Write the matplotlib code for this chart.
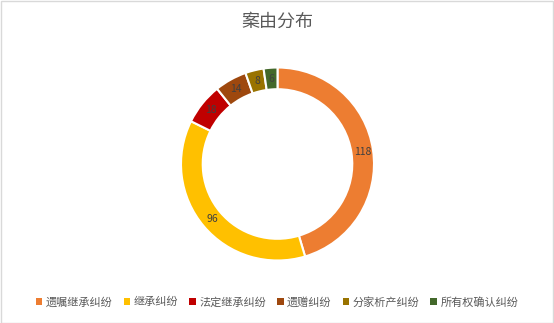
import matplotlib
matplotlib.use("Agg")
import matplotlib.pyplot as plt
import matplotlib.patches as mpatches

plt.rcParams['font.family'] = ['Noto Sans CJK SC', 'DejaVu Sans']

categories = ['遗嘱继承纠纷', '继承纠纷', '法定继承纠纷', '遗赠纠纷', '分家析产纠纷', '所有权确认纠纷']
counts = [118, 96, 18, 14, 8, 6]
colors = ['#ED7D31', '#FFC000', '#C00000', '#9E480E', '#997300', '#43682B']

W, H = 554, 323
fig = plt.figure(figsize=(W / 100, H / 100), dpi=100)

# chart border
fig.add_artist(mpatches.Rectangle((0.5 / W, 0.5 / H), 1 - 1.5 / W, 1 - 1.5 / H,
                                  transform=fig.transFigure, fill=False,
                                  edgecolor='#D9D9D9', linewidth=1))

cx, cy, R = 277.5, 159, 96.5
ax = fig.add_axes([(cx - R) / W, (cy - R) / H, 2 * R / W, 2 * R / H])
wedges, texts, autotexts = ax.pie(
    counts, colors=colors, startangle=90, counterclock=False, radius=1,
    wedgeprops=dict(width=0.225, edgecolor='white', linewidth=1.5),
    autopct=lambda p: '{:.0f}'.format(p * sum(counts) / 100),
    pctdistance=0.888, textprops=dict(fontsize=7.5, color='#404040'))
ax.set_xlim(-1, 1)
ax.set_ylim(-1, 1)
ax.axis('off')

fig.text(0.5, 1 - 22 / H, '案由分布', ha='center', va='center',
         fontsize=13, color='#595959')

handles = [mpatches.Patch(facecolor=c, edgecolor='none') for c in colors]
fig.legend(handles, categories, loc='center', bbox_to_anchor=(0.5, 1 - 302 / H),
           ncol=6, frameon=False, fontsize=8, handlelength=0.6, handleheight=0.6,
           handletextpad=0.3, columnspacing=1.0, labelcolor='#595959')

fig.savefig('out.png', dpi=100)
